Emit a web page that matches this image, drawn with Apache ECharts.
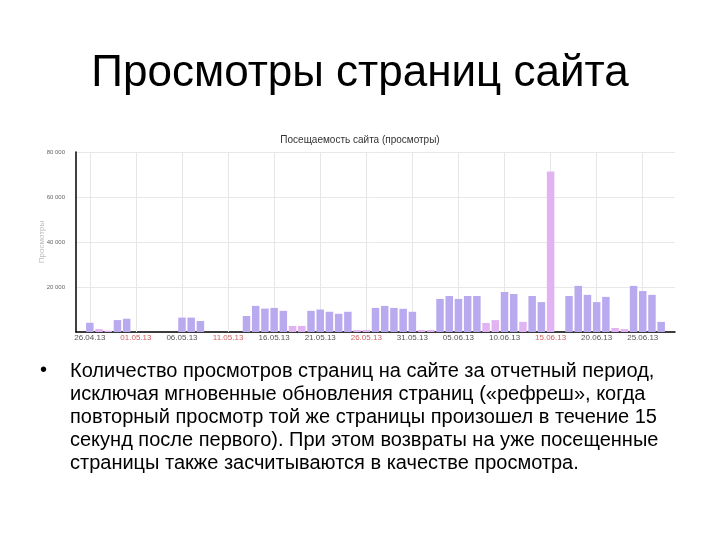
<!DOCTYPE html>
<head>
    <meta charset="utf-8">
    <title>ECharts</title>
    <script src="https://cdn.jsdelivr.net/npm/echarts@6/dist/echarts.min.js"></script>
    <style>
        html, body { margin: 0; padding: 0; background: #fff; }
    </style>
</head>
<body>
    <div id="main" style="width:720px;height:540px"></div>
    <script type="text/javascript">
        // дни с 26.04.13 по 27.06.13, null = нет данных
        var views = [
            4100, 1300, 600, 5300, 5900,
            null, null, null, null, null,
            6400, 6400, 4900,
            null, null, null, null,
            7100, 11600, 10400, 10700, 9400, 2700, 2700, 9400, 10000, 9000,
            8100, 9000, 900, 900, 10700, 11600, 10700, 10300, 9000,
            900, 900, 14700, 16000, 14700, 16000, 16000, 4000, 5300, 17800,
            16900, 4500, 16000, 13300, 71300, null, 16000, 20500, 16500, 13300,
            15600, 1800, 1300, 20500, 18200, 16500, 4500
        ];
        // выходные и праздники (розовые столбцы)
        var offDays = ['27.04.13', '28.04.13', '18.05.13', '19.05.13', '25.05.13', '26.05.13',
            '01.06.13', '02.06.13', '08.06.13', '09.06.13', '12.06.13', '15.06.13',
            '22.06.13', '23.06.13'];
        var tickLabels = ['26.04.13', '01.05.13', '06.05.13', '11.05.13', '16.05.13', '21.05.13',
            '26.05.13', '31.05.13', '05.06.13', '10.06.13', '15.06.13', '20.06.13', '25.06.13'];
        var redLabels = ['01.05.13', '11.05.13', '26.05.13', '15.06.13'];
        var yTicks = [0, 20000, 40000, 60000, 80000];

        // ось: 25.04.13 ... 28.06.13 (по краям пустые дни)
        var days = [];
        var start = Date.UTC(2013, 3, 25);
        for (var i = 0; i < views.length + 2; i++) {
            var d = new Date(start + i * 86400000);
            var dd = ('0' + d.getUTCDate()).slice(-2);
            var mm = ('0' + (d.getUTCMonth() + 1)).slice(-2);
            days.push(dd + '.' + mm + '.13');
        }

        var barData = days.map(function (day, i) {
            var v = (i === 0 || i > views.length) ? null : views[i - 1];
            if (v === null) return '-';
            return {
                value: v,
                itemStyle: { color: offDays.indexOf(day) >= 0 ? '#e2b3f3' : '#b9aaf0' }
            };
        });

        var myChart = echarts.init(document.getElementById('main'));

        var textFont = '"Liberation Sans", Arial, sans-serif';
        var lines = [
            'Количество просмотров страниц на сайте за отчетный период,',
            'исключая мгновенные обновления страниц («рефреш», когда',
            'повторный просмотр той же страницы произошел в течение 15',
            'секунд после первого). При этом возвраты на уже посещенные',
            'страницы также засчитываются в качестве просмотра.'
        ];
        var graphics = [{
            type: 'text', left: 40, top: 360,
            style: { text: '•', font: '20px ' + textFont, fill: '#000' }
        }, {
            // подпись оси Y
            type: 'text', x: 42, y: 242, rotation: Math.PI / 2,
            style: { text: 'Просмотры', font: '8px ' + textFont, fill: '#bbb', align: 'center', verticalAlign: 'middle' }
        }];
        lines.forEach(function (t, i) {
            graphics.push({
                type: 'text', left: 70, top: 361 + i * 23.2,
                style: { text: t, font: '20px ' + textFont, fill: '#000' }
            });
        });

        var option = {
            animation: false,
            title: [{
                text: 'Просмотры страниц сайта',
                left: 'center', top: 47,
                textStyle: { fontFamily: textFont, fontSize: 44, fontWeight: 'normal', color: '#000' }
            }, {
                text: 'Посещаемость сайта (просмотры)',
                left: 'center', top: 130,
                textStyle: { fontFamily: textFont, fontSize: 10, fontWeight: 'normal', color: '#333' }
            }],
            graphic: graphics,
            grid: { left: 76, right: 45, top: 152, bottom: 208 },
            xAxis: {
                type: 'category',
                data: days,
                axisLine: { lineStyle: { color: '#000', width: 1.5 } },
                axisTick: { show: false },
                splitLine: { show: false },
                axisLabel: {
                    interval: function (idx, val) { return tickLabels.indexOf(val) >= 0; },
                    fontFamily: textFont, fontSize: 8, margin: 2,
                    color: function (val) { return redLabels.indexOf(val) >= 0 ? '#d06060' : '#555'; }
                }
            },
            yAxis: {
                type: 'value',
                min: yTicks[0], max: yTicks[yTicks.length - 1], interval: 20000,
                axisLine: { show: true, lineStyle: { color: '#000', width: 1.5 } },
                axisTick: { show: false },
                splitLine: { lineStyle: { color: '#e8e8e8' } },
                axisLabel: {
                    fontFamily: textFont, fontSize: 6, color: '#666', margin: 11,
                    formatter: function (v) {
                        if (v === 0) return '';
                        return String(v).replace(/\B(?=(\d{3})+(?!\d))/g, ' ');
                    }
                }
            },
            series: [{
                type: 'bar',
                data: barData,
                barWidth: 7.5,
                markLine: {
                    silent: true,
                    symbol: 'none',
                    z: 1,
                    label: { show: false },
                    lineStyle: { color: '#e6e6e6', type: 'solid', width: 1 },
                    data: tickLabels.map(function (t) { return { xAxis: t }; })
                }
            }]
        };

        myChart.setOption(option);
    </script>
</body>
